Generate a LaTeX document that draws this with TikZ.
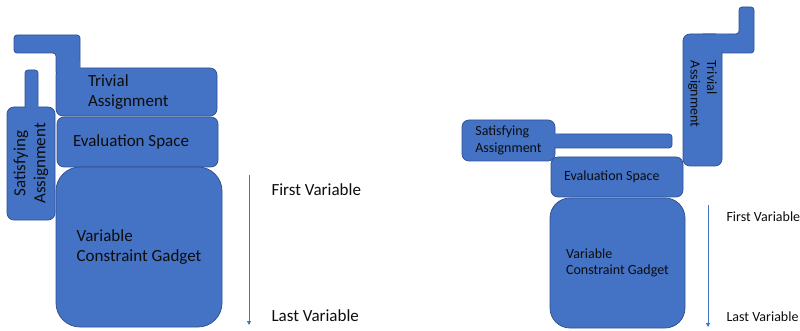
\documentclass[tikz,border=0pt]{standalone}
\usepackage{fontspec}
\setmainfont{Carlito}
\usetikzlibrary{arrows.meta}
\definecolor{gadblue}{HTML}{4472C4}
\definecolor{gadedge}{HTML}{2F528F}
\definecolor{gadtext}{HTML}{0D0D0D}

\begin{document}
\begin{tikzpicture}[
  x=1pt, y=-1pt,
  blk/.style={
    draw=gadedge, line width=0.75pt, fill=gadblue, rounded corners=7pt,
    text=gadtext, align=center, inner sep=2pt
  },
  strip/.style={draw=gadedge, line width=0.75pt, fill=gadblue, rounded corners=3pt},
  seam/.style={fill=gadblue},
  bigtxt/.style={font=\fontsize{17}{20}\selectfont},
  smalltxt/.style={font=\fontsize{14}{16.5}\selectfont},
  flow/.style={-{Triangle[length=4pt, width=4pt]}, line width=0.75pt, gadblue},
  varlbl/.style={anchor=west, text=gadtext},
]

% Frame
\useasboundingbox (0,0) rectangle (800,331);

% ==== Left gadget ====
% connectors behind the boxes
\draw[strip] (14,35) -- (80,35) -- (80,75) -- (56,75) -- (56,53) -- (14,53) -- cycle;
\draw[strip] (25,70) rectangle (38,112);

% Satisfying Assignment (turned)
\node[blk, bigtxt, rotate=90, minimum width=113pt, minimum height=48pt]
  (lsat) at (31,163.5) {Satisfying\\Assignment};

% Trivial Assignment
\node[blk, bigtxt, align=flush left, text width=97pt, inner xsep=32pt, minimum height=48pt]
  (ltriv) at (136.5,92) {Trivial\\Assignment};

% Evaluation Space
\node[blk, bigtxt, align=flush left, text width=129pt, inner xsep=16pt, minimum height=50pt]
  (leval) at (137.5,142) {Evaluation Space};

% Variable Constraint Gadget
\node[blk, bigtxt, align=left, rounded corners=24pt, minimum width=166pt, minimum height=160pt]
  (lvcg) at (139,247) {Variable\\Constraint Gadget};

% seams where connectors join their boxes
\fill[seam] (56.5,62) rectangle (79.6,74);
\fill[seam] (25.5,103) rectangle (37.5,111);

% variable order
\coordinate (lfirst) at (249,175);
\coordinate (llast) at (249,325);
\draw[flow] (lfirst) -- (llast);
\node[varlbl, bigtxt] (lfirstlbl) at (268,190) {First Variable};
\node[varlbl, bigtxt] (llastlbl) at (268,316) {Last Variable};

% ==== Right gadget ====
% connectors behind the boxes
\draw[strip] (700,34) -- (739,34) -- (739,7) -- (754,7) -- (754,53) -- (700,53) -- cycle;
\draw[strip] (545,134) rectangle (672,148);

% Satisfying Assignment
\node[blk, smalltxt, align=left, minimum width=93pt, minimum height=41pt]
  (rsat) at (508.5,140.5) {Satisfying\\Assignment};

% Trivial Assignment (turned)
\node[blk, smalltxt, rotate=-90, align=flush left, text width=78pt, inner xsep=27pt, minimum height=39pt]
  (rtriv) at (702.5,100) {Trivial\\Assignment};

% Evaluation Space
\node[blk, smalltxt, align=flush left, text width=106pt, inner xsep=13pt, minimum height=40pt]
  (reval) at (617,177) {Evaluation Space};

% Variable Constraint Gadget
\node[blk, smalltxt, align=left, rounded corners=20pt, minimum width=135pt, minimum height=130pt]
  (rvcg) at (617.5,263) {Variable\\Constraint Gadget};

% seams where connectors join their boxes
\fill[seam] (550,134.5) rectangle (560,147.5);
\fill[seam] (716,34.5) rectangle (728,52.5);

% variable order
\coordinate (rfirst) at (708,205);
\coordinate (rlast) at (708,327);
\draw[flow] (rfirst) -- (rlast);
\node[varlbl, smalltxt] (rfirstlbl) at (723,217) {First Variable};
\node[varlbl, smalltxt] (rlastlbl) at (723,317) {Last Variable};

\end{tikzpicture}
\end{document}
